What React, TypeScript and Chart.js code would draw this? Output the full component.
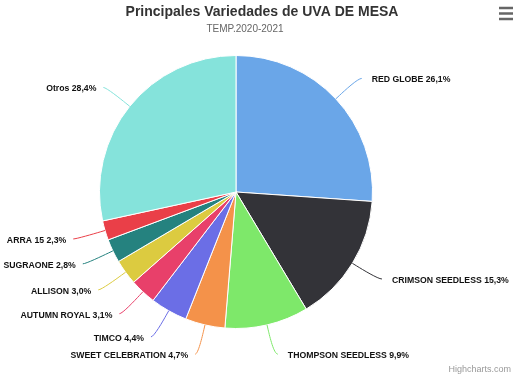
import React, { useEffect, useRef } from 'react';
import { Chart, registerables } from 'chart.js';

Chart.register(...registerables);

const categories = [
  'RED GLOBE',
  'CRIMSON SEEDLESS',
  'THOMPSON SEEDLESS',
  'SWEET CELEBRATION',
  'TIMCO',
  'AUTUMN ROYAL',
  'ALLISON',
  'SUGRAONE',
  'ARRA 15',
  'Otros',
];
const shares = [26.1, 15.3, 9.9, 4.7, 4.4, 3.1, 3.0, 2.8, 2.3, 28.4];
const sliceColors = [
  '#6aa6e8',
  '#333338',
  '#7ee86a',
  '#f4924a',
  '#6b6ee6',
  '#e8406a',
  '#dccb40',
  '#25827f',
  '#ea3f48',
  '#85e3db',
];
const titleText = 'Principales Variedades de UVA DE MESA';
const subtitleText = 'TEMP.2020-2021';
const creditText = 'Highcharts.com';

const FONT = '"Liberation Sans", "DejaVu Sans", sans-serif';

const fmt = (v: number) => v.toFixed(1).replace('.', ',') + '%';

const decorPlugin = {
  id: 'decor',
  afterDraw(chart: any) {
    const ctx: CanvasRenderingContext2D = chart.ctx;
    const W = chart.width;
    ctx.save();
    // Title
    ctx.fillStyle = '#333333';
    ctx.textAlign = 'center';
    ctx.textBaseline = 'middle';
    ctx.font = `bold 14px ${FONT}`;
    ctx.fillText(titleText, 262, 12);
    ctx.fillStyle = '#666666';
    ctx.font = `10px ${FONT}`;
    ctx.fillText(subtitleText, 245, 29);
    // Credits
    ctx.fillStyle = '#999999';
    ctx.textAlign = 'right';
    ctx.font = `9px ${FONT}`;
    ctx.fillText(creditText, W - 10, 370);
    // Hamburger
    ctx.strokeStyle = '#666666';
    ctx.lineWidth = 2.5;
    [8, 13.5, 19].forEach((yy) => {
      ctx.beginPath();
      ctx.moveTo(499, yy);
      ctx.lineTo(513, yy);
      ctx.stroke();
    });
    ctx.restore();
  },
  afterDatasetsDraw(chart: any) {
    const ctx: CanvasRenderingContext2D = chart.ctx;
    const meta = chart.getDatasetMeta(0);
    const ds = chart.data.datasets[0];
    ctx.save();
    meta.data.forEach((arc: any, i: number) => {
      const { x, y, startAngle, endAngle, outerRadius } = arc.getProps(
        ['x', 'y', 'startAngle', 'endAngle', 'outerRadius'],
        true
      );
      const mid = (startAngle + endAngle) / 2;
      const c = Math.cos(mid);
      const s = Math.sin(mid);
      const right = c >= 0;
      const dist = 30;
      const ax = x + c * (outerRadius + dist);
      const ay = y + s * (outerRadius + dist);
      const p0x = x + c * outerRadius;
      const p0y = y + s * outerRadius;
      const p1x = x + c * (outerRadius + 5);
      const p1y = y + s * (outerRadius + 5);
      const c2x = x + c * (outerRadius + 12);
      const c2y = y + s * (outerRadius + 12);
      const ex = ax + (right ? 4 : -3);
      ctx.strokeStyle = ds.backgroundColor[i];
      ctx.lineWidth = 1;
      ctx.beginPath();
      ctx.moveTo(ex, ay);
      ctx.bezierCurveTo(ax, ay, c2x, c2y, p1x, p1y);
      ctx.lineTo(p0x, p0y);
      ctx.stroke();

      ctx.fillStyle = '#111111';
      ctx.font = `bold 8.7px ${FONT}`;
      ctx.textBaseline = 'middle';
      ctx.textAlign = right ? 'left' : 'right';
      const label = `${chart.data.labels[i]} ${fmt(ds.data[i])}`;
      ctx.fillText(label, ax + (right ? 14 : -10), ay + 1.5);
    });
    ctx.restore();
  },
};

export default function App() {
  const ref = useRef<HTMLCanvasElement | null>(null);
  useEffect(() => {
    document.body.style.margin = '0';
    const canvas = ref.current;
    if (!canvas) return;
    const chart = new Chart(canvas, {
      type: 'pie',
      data: {
        labels: categories,
        datasets: [
          {
            data: shares,
            backgroundColor: sliceColors,
            borderColor: '#ffffff',
            borderWidth: 1,
          },
        ],
      },
      options: {
        responsive: false,
        animation: false,
        layout: { padding: { top: 55, bottom: 50, left: 99, right: 148 } },
        plugins: {
          legend: { display: false },
          tooltip: { enabled: false },
          title: { display: false },
        },
      },
      plugins: [decorPlugin],
    });
    return () => chart.destroy();
  }, []);
  return (
    <div style={{ width: 521, height: 379, background: '#ffffff' }}>
      <canvas ref={ref} width={521} height={379} />
    </div>
  );
}
